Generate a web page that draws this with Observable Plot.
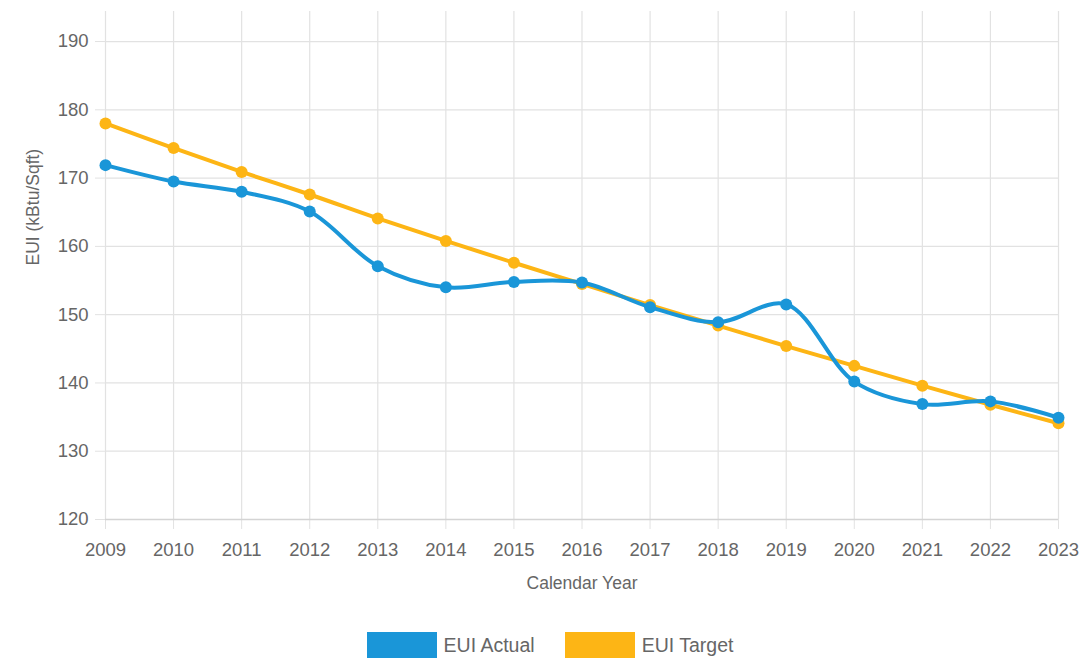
<!DOCTYPE html>
<html>
<head>
<meta charset="utf-8">
<script src="https://cdn.jsdelivr.net/npm/d3@7"></script>
<script src="https://cdn.jsdelivr.net/npm/@observablehq/plot@0.6"></script>
<style>
  html, body { margin: 0; padding: 0; background: #fff; }
  body { width: 1082px; height: 658px; overflow: hidden; font-family: "Liberation Sans", Arial, sans-serif; }
  #legend { display: flex; justify-content: center; margin-top: 32px; font-size: 19.5px; color: #666; padding-left: 18px; }
  .item { display: flex; align-items: center; margin: 0 15px; }
  .swatch { width: 70px; height: 26px; margin-right: 7px; }
</style>
</head>
<body>
<div id="chart"></div>
<div id="legend"></div>
<script>
const years = [2009, 2010, 2011, 2012, 2013, 2014, 2015, 2016, 2017, 2018, 2019, 2020, 2021, 2022, 2023];
const actual = [171.9, 169.5, 168.0, 165.1, 157.1, 154.0, 154.8, 154.7, 151.1, 148.9, 151.5, 140.2, 136.9, 137.3, 134.9];
const target = [178.0, 174.4, 170.9, 167.6, 164.1, 160.8, 157.6, 154.5, 151.4, 148.4, 145.4, 142.5, 139.6, 136.8, 134.1];
const yTicks = [120, 130, 140, 150, 160, 170, 180, 190];
const seriesNames = ["EUI Actual", "EUI Target"];
const seriesColors = ["#1a96d8", "#fdb515"];

const actualData = years.map((x, i) => ({x, y: actual[i]}));
const targetData = years.map((x, i) => ({x, y: target[i]}));

const chart = Plot.plot({
  width: 1082,
  height: 600,
  marginTop: 11,
  marginBottom: 81,
  marginLeft: 105,
  marginRight: 24,
  style: {fontFamily: "'Liberation Sans', Arial, sans-serif", fontSize: "18px", color: "#666"},
  x: {domain: [2009, 2023]},
  y: {domain: [120, 194.4]},
  marks: [
    Plot.ruleX(years, {stroke: "#e2e2e2", strokeWidth: 1.2}),
    Plot.ruleY(yTicks, {stroke: "#e2e2e2", strokeWidth: 1.2}),
    Plot.axisX(years, {tickSize: 10, tickPadding: 13, stroke: "#e2e2e2", fill: "#666", fontSize: 18.5, tickFormat: d => String(d), label: null}),
    Plot.axisY(yTicks, {tickSize: 10, tickPadding: 7, stroke: "#e2e2e2", fill: "#666", fontSize: 18.5, label: null}),
    Plot.ruleY([120], {stroke: "#d4d4d4", strokeWidth: 1.5}),
    Plot.text(["Calendar Year"], {frameAnchor: "bottom", dy: 69, fill: "#666", fontSize: 17.5}),
    Plot.text(["EUI (kBtu/Sqft)"], {frameAnchor: "left", dx: -72, rotate: -90, fill: "#666", fontSize: 17.5}),
    Plot.line(targetData, {x: "x", y: "y", stroke: seriesColors[1], strokeWidth: 4, curve: "catmull-rom"}),
    Plot.dot(targetData, {x: "x", y: "y", fill: seriesColors[1], r: 6}),
    Plot.line(actualData, {x: "x", y: "y", stroke: seriesColors[0], strokeWidth: 4, curve: "catmull-rom"}),
    Plot.dot(actualData, {x: "x", y: "y", fill: seriesColors[0], r: 6})
  ]
});
document.getElementById("chart").appendChild(chart);

const legend = document.getElementById("legend");
seriesNames.forEach((name, i) => {
  const item = document.createElement("div");
  item.className = "item";
  const sw = document.createElement("div");
  sw.className = "swatch";
  sw.style.background = seriesColors[i];
  const label = document.createElement("span");
  label.textContent = name;
  item.appendChild(sw);
  item.appendChild(label);
  legend.appendChild(item);
});
</script>
</body>
</html>
